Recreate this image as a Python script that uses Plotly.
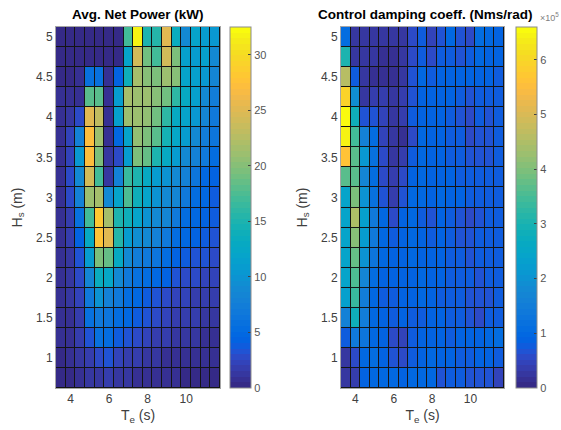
import plotly.graph_objects as go

# Sea-state grid: energy period (columns) and significant wave height (rows, top to bottom)
te_s = [3.5, 4.0, 4.5, 5.0, 5.5, 6.0, 6.5, 7.0, 7.5, 8.0, 8.5, 9.0, 9.5, 10.0, 10.5, 11.0, 11.5]
hs_m = [5.0, 4.75, 4.5, 4.25, 4.0, 3.75, 3.5, 3.25, 3.0, 2.75, 2.5, 2.25, 2.0, 1.75, 1.5, 1.25, 1.0, 0.75]

# Average net power (kW), one row per Hs
net_power_kw = [
    [0.5, 0.5, 0.5, 0.5, 0.5, 0.5, 0.5, 17.0, 31.5, 15.0, 15.5, 25.0, 13.5, 9.0, 12.0, 11.0, 10.5],
    [0.5, 0.5, 0.5, 0.5, 0.5, 0.5, 0.5, 12.0, 24.0, 19.0, 17.0, 24.0, 19.5, 11.5, 11.0, 11.5, 9.0],
    [0.5, 0.5, 1.0, 6.0, 6.0, 0.8, 4.5, 14.0, 21.5, 20.0, 19.5, 21.0, 20.0, 12.0, 11.5, 10.5, 8.5],
    [1.0, 1.0, 1.0, 18.0, 18.0, 1.0, 11.0, 21.5, 21.0, 21.0, 20.0, 19.0, 16.0, 13.0, 11.5, 9.0, 7.5],
    [1.0, 1.5, 3.0, 25.0, 23.0, 1.0, 11.5, 21.0, 21.0, 20.5, 19.0, 16.0, 13.0, 12.0, 10.5, 8.5, 7.0],
    [1.0, 2.5, 8.0, 27.0, 21.0, 1.0, 5.0, 12.0, 20.5, 19.5, 18.0, 14.5, 12.5, 11.0, 9.0, 7.5, 6.5],
    [1.0, 2.5, 10.5, 27.0, 19.5, 1.2, 3.0, 11.0, 19.5, 18.5, 15.0, 13.0, 11.0, 9.0, 8.0, 7.0, 5.5],
    [1.0, 3.0, 9.0, 24.0, 17.0, 1.2, 8.0, 16.5, 15.0, 13.0, 11.0, 10.0, 9.0, 8.0, 6.5, 5.0, 4.5],
    [1.0, 3.0, 8.0, 21.0, 21.5, 9.0, 12.0, 17.5, 14.0, 12.0, 10.0, 9.0, 8.5, 7.0, 5.5, 5.0, 4.0],
    [1.0, 2.0, 6.0, 17.0, 28.0, 21.5, 15.0, 14.0, 12.0, 10.0, 9.0, 8.5, 7.0, 5.5, 5.0, 4.5, 4.0],
    [1.0, 2.0, 4.5, 13.0, 27.5, 25.0, 15.5, 11.0, 9.5, 9.0, 8.0, 7.0, 5.5, 5.0, 4.5, 4.0, 3.5],
    [1.0, 1.5, 3.5, 11.0, 19.5, 18.5, 13.0, 9.0, 7.5, 7.0, 6.5, 5.5, 4.5, 4.0, 3.5, 3.2, 3.0],
    [1.0, 1.5, 3.0, 8.5, 13.5, 12.5, 9.0, 7.0, 6.0, 5.5, 5.0, 4.5, 3.5, 3.0, 3.0, 2.5, 2.5],
    [0.8, 1.2, 2.5, 7.0, 10.0, 8.0, 7.0, 5.5, 5.0, 4.0, 3.5, 3.0, 2.5, 2.5, 2.0, 2.0, 1.8],
    [0.7, 1.0, 2.0, 6.0, 7.0, 6.5, 5.5, 5.0, 4.0, 3.5, 3.0, 2.5, 2.0, 2.0, 1.8, 1.5, 1.5],
    [0.6, 1.0, 1.8, 3.5, 6.0, 5.5, 4.0, 3.5, 3.0, 2.5, 2.0, 1.8, 1.5, 1.5, 1.2, 1.0, 1.0],
    [0.5, 0.8, 1.2, 2.0, 2.8, 3.2, 2.5, 2.0, 1.8, 1.5, 1.2, 1.0, 0.8, 0.7, 0.7, 0.6, 0.6],
    [0.4, 0.5, 0.8, 1.2, 1.5, 1.8, 1.5, 1.2, 1.0, 0.9, 0.8, 0.7, 0.6, 0.5, 0.5, 0.4, 0.4],
]

# Control damping coefficient, in units of 1e5 Nms/rad
damping_1e5 = [
    [1.10, 0.30, 0.25, 0.25, 0.25, 0.25, 0.25, 0.60, 0.80, 0.50, 0.70, 0.95, 0.70, 0.55, 1.05, 0.95, 0.90],
    [3.00, 0.30, 0.25, 0.25, 0.20, 0.20, 0.25, 0.60, 0.80, 0.60, 0.80, 0.80, 0.70, 0.80, 1.00, 0.90, 0.85],
    [4.60, 0.80, 0.25, 0.20, 0.20, 0.20, 0.25, 0.70, 0.95, 0.80, 0.90, 0.90, 0.85, 0.85, 0.90, 0.85, 0.80],
    [5.90, 1.90, 0.30, 0.40, 0.35, 0.30, 0.40, 0.70, 0.90, 0.85, 0.90, 0.85, 0.80, 0.65, 0.75, 0.80, 0.75],
    [6.50, 2.80, 0.70, 0.70, 0.45, 0.30, 0.40, 0.75, 0.90, 0.85, 0.85, 0.80, 0.70, 0.60, 0.75, 0.70, 0.75],
    [6.40, 3.50, 1.60, 1.10, 0.50, 0.25, 0.20, 0.60, 0.95, 0.90, 0.85, 0.80, 0.75, 0.60, 0.65, 0.70, 0.75],
    [5.60, 3.70, 2.10, 1.20, 0.60, 0.30, 0.35, 0.80, 0.95, 0.90, 0.85, 0.80, 0.75, 0.70, 0.70, 0.70, 0.75],
    [3.70, 3.70, 1.70, 1.10, 0.60, 0.35, 0.60, 0.90, 0.95, 0.90, 0.85, 0.85, 0.80, 0.75, 0.75, 0.75, 0.80],
    [2.40, 4.00, 2.00, 1.20, 0.70, 0.35, 0.70, 0.95, 0.95, 0.90, 1.00, 0.85, 0.85, 0.80, 0.80, 0.80, 0.80],
    [2.40, 4.50, 2.30, 1.40, 1.00, 0.60, 0.90, 1.00, 0.80, 0.65, 0.90, 0.75, 0.70, 0.55, 0.70, 0.75, 0.80],
    [2.40, 4.10, 2.20, 1.40, 1.00, 0.80, 0.90, 1.00, 0.85, 0.80, 0.85, 0.75, 0.70, 0.70, 0.75, 0.75, 0.80],
    [2.40, 3.80, 2.00, 1.30, 1.00, 0.85, 0.90, 0.95, 0.90, 0.85, 0.85, 0.80, 0.75, 0.70, 0.75, 0.75, 0.75],
    [2.40, 3.60, 1.70, 1.10, 0.90, 0.85, 0.90, 0.90, 0.95, 0.90, 0.85, 0.80, 0.75, 0.75, 0.70, 0.75, 0.75],
    [2.30, 3.40, 1.50, 1.00, 0.80, 0.80, 0.85, 0.90, 0.95, 0.85, 0.80, 0.75, 0.75, 0.70, 0.65, 0.70, 0.75],
    [1.60, 2.80, 1.50, 1.00, 0.85, 0.80, 0.85, 0.75, 0.80, 0.85, 0.85, 0.80, 0.75, 0.70, 0.60, 0.75, 0.80],
    [0.75, 1.40, 1.30, 1.00, 0.85, 0.60, 0.50, 0.80, 0.90, 0.85, 0.85, 0.80, 0.85, 0.85, 0.90, 0.95, 1.10],
    [0.25, 0.55, 1.00, 1.05, 0.90, 0.70, 0.55, 0.80, 0.90, 0.95, 0.90, 0.85, 0.80, 0.80, 0.85, 0.85, 0.80],
    [0.25, 0.35, 0.85, 1.00, 1.00, 0.95, 0.90, 0.95, 0.95, 0.95, 0.70, 0.75, 0.75, 0.70, 0.70, 0.65, 0.45],
]

power_ticks = [0, 5, 10, 15, 20, 25, 30]
damping_ticks = [0, 1, 2, 3, 4, 5, 6]
hs_ticks = [1, 1.5, 2, 2.5, 3, 3.5, 4, 4.5, 5]
hs_ticklabels = ["1", "1.5", "2", "2.5", "3", "3.5", "4", "4.5", "5"]
te_ticks = [4, 6, 8, 10]

# MATLAB parula, 64 entries
parula = [
    [0.2081, 0.1663, 0.5292], [0.2116, 0.1898, 0.5777], [0.2123, 0.2138, 0.6270], [0.2081, 0.2386, 0.6771],
    [0.1959, 0.2645, 0.7279], [0.1707, 0.2919, 0.7792], [0.1253, 0.3242, 0.8303], [0.0591, 0.3598, 0.8683],
    [0.0117, 0.3875, 0.8820], [0.0060, 0.4086, 0.8828], [0.0165, 0.4266, 0.8786], [0.0329, 0.4430, 0.8720],
    [0.0498, 0.4586, 0.8641], [0.0629, 0.4737, 0.8554], [0.0723, 0.4887, 0.8467], [0.0779, 0.5040, 0.8384],
    [0.0793, 0.5200, 0.8312], [0.0749, 0.5375, 0.8263], [0.0641, 0.5570, 0.8240], [0.0488, 0.5772, 0.8228],
    [0.0343, 0.5966, 0.8199], [0.0265, 0.6137, 0.8135], [0.0239, 0.6287, 0.8038], [0.0231, 0.6418, 0.7913],
    [0.0228, 0.6535, 0.7768], [0.0267, 0.6642, 0.7607], [0.0384, 0.6743, 0.7436], [0.0590, 0.6838, 0.7254],
    [0.0843, 0.6928, 0.7062], [0.1133, 0.7015, 0.6859], [0.1453, 0.7098, 0.6646], [0.1801, 0.7177, 0.6424],
    [0.2178, 0.7250, 0.6193], [0.2586, 0.7317, 0.5954], [0.3022, 0.7376, 0.5712], [0.3482, 0.7424, 0.5473],
    [0.3953, 0.7459, 0.5244], [0.4420, 0.7481, 0.5033], [0.4871, 0.7491, 0.4840], [0.5300, 0.7491, 0.4661],
    [0.5709, 0.7485, 0.4494], [0.6099, 0.7473, 0.4337], [0.6473, 0.7456, 0.4188], [0.6834, 0.7435, 0.4044],
    [0.7184, 0.7411, 0.3905], [0.7525, 0.7384, 0.3768], [0.7858, 0.7356, 0.3633], [0.8185, 0.7327, 0.3498],
    [0.8507, 0.7299, 0.3360], [0.8824, 0.7274, 0.3217], [0.9139, 0.7258, 0.3063], [0.9450, 0.7261, 0.2886],
    [0.9739, 0.7314, 0.2666], [0.9938, 0.7455, 0.2403], [0.9990, 0.7653, 0.2164], [0.9955, 0.7861, 0.1967],
    [0.9880, 0.8066, 0.1794], [0.9789, 0.8271, 0.1633], [0.9697, 0.8481, 0.1475], [0.9626, 0.8705, 0.1309],
    [0.9589, 0.8949, 0.1132], [0.9598, 0.9218, 0.0948], [0.9661, 0.9514, 0.0755], [0.9763, 0.9831, 0.0538],
]


def stepped_scale(cmap):
    n = len(cmap)
    scale = []
    for i, (r, g, b) in enumerate(cmap):
        c = f"rgb({round(r * 255)},{round(g * 255)},{round(b * 255)})"
        scale.append([i / n, c])
        scale.append([(i + 1) / n, c])
    return scale


cscale = stepped_scale(parula)

W, H = 561, 430
top_px, bot_px = 27, 388
y_dom = [1 - bot_px / H, 1 - top_px / H]
x1_dom = [56 / W, 220 / W]
x2_dom = [341 / W, 504 / W]
cb_len = (bot_px - top_px) / H
cb_y = (y_dom[0] + y_dom[1]) / 2

font = "Liberation Sans, Arial, Helvetica, sans-serif"
tick_font = dict(family=font, size=12, color="#404040")
cb_font = dict(family=font, size=11, color="#555555")

common_cb = dict(
    thickness=21, thicknessmode="pixels", len=cb_len, lenmode="fraction",
    y=cb_y, yanchor="middle", xanchor="left", xpad=0, ypad=0,
    outlinecolor="#8c8c8c", outlinewidth=1, ticks="inside", ticklen=3,
    tickcolor="#404040", tickfont=cb_font,
)

fig = go.Figure()
fig.add_trace(go.Heatmap(
    x=te_s, y=hs_m, z=net_power_kw, zmin=0, zmax=32.5,
    colorscale=cscale, xgap=1, ygap=1, xaxis="x", yaxis="y",
    colorbar=dict(common_cb, x=230 / W, tickvals=power_ticks),
))
fig.add_trace(go.Heatmap(
    x=te_s, y=hs_m, z=damping_1e5, zmin=0, zmax=6.6,
    colorscale=cscale, xgap=1, ygap=1, xaxis="x2", yaxis="y2",
    colorbar=dict(common_cb, x=516 / W, tickvals=damping_ticks),
))

axis_common = dict(
    showline=True, mirror=True, linecolor="#a6a6a6", linewidth=1,
    showgrid=False, zeroline=False, ticks="", tickfont=tick_font,
)
x_title = dict(text="T<sub>e</sub> (s)", font=dict(family=font, size=14, color="#404040"), standoff=4)
y_title = dict(text="H<sub>s</sub> (m)", font=dict(family=font, size=14, color="#404040"), standoff=10)

fig.update_layout(
    width=W, height=H, margin=dict(l=0, r=0, t=0, b=0),
    paper_bgcolor="white", plot_bgcolor="#141414",
    font=dict(family=font),
    xaxis=dict(axis_common, domain=x1_dom, range=[3.25, 11.75], tickvals=te_ticks,
               title=x_title, anchor="y"),
    yaxis=dict(axis_common, domain=y_dom, range=[0.625, 5.125], tickvals=hs_ticks,
               ticktext=hs_ticklabels, title=y_title, anchor="x"),
    xaxis2=dict(axis_common, domain=x2_dom, range=[3.25, 11.75], tickvals=te_ticks,
                title=x_title, anchor="y2"),
    yaxis2=dict(axis_common, domain=y_dom, range=[0.625, 5.125], tickvals=hs_ticks,
                ticktext=hs_ticklabels, title=y_title, anchor="x2"),
    annotations=[
        dict(text="<b>Avg. Net Power (kW)</b>", x=(x1_dom[0] + x1_dom[1]) / 2, y=1 - 15 / H,
             xref="paper", yref="paper", showarrow=False, xanchor="center", yanchor="middle",
             font=dict(family=font, size=13.5, color="black")),
        dict(text="<b>Control damping coeff. (Nms/rad)</b>", x=(x2_dom[0] + x2_dom[1]) / 2 + 0.005, y=1 - 15 / H,
             xref="paper", yref="paper", showarrow=False, xanchor="center", yanchor="middle",
             font=dict(family=font, size=13.5, color="black")),
        dict(text="×10<sup>5</sup>", x=538 / W, y=1 - 17 / H,
             xref="paper", yref="paper", showarrow=False, xanchor="left", yanchor="middle",
             font=dict(family=font, size=9, color="#808080")),
    ],
)

fig.write_html("out.html")
